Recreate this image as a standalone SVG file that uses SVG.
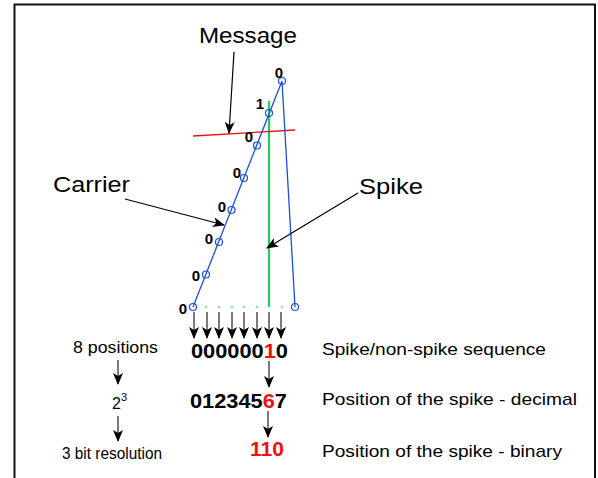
<svg xmlns="http://www.w3.org/2000/svg" width="598" height="478" viewBox="0 0 598 478">
<defs>
<marker id="ah" viewBox="0 0 12 10" refX="11" refY="5" markerWidth="12" markerHeight="10" markerUnits="userSpaceOnUse" orient="auto">
<path d="M0,0 L12,5 L0,10 L3,5 z" fill="#000"/>
</marker>
</defs>
<style>
.lbl{font-family:"Liberation Sans",Arial,sans-serif;fill:#000}
.big{font-size:22px}
.mid{font-size:17px}
.bit{font-family:"Liberation Sans",Arial,sans-serif;font-size:15px;font-weight:bold;fill:#000}
.seq{font-family:"Liberation Sans",Arial,sans-serif;font-size:21px;font-weight:bold;fill:#000}
.red{fill:#ee1111}
.ptr{stroke:#000;stroke-width:1.2;fill:none;marker-end:url(#ah)}
.dn{stroke:#222;stroke-width:1.2;fill:none;marker-end:url(#ah)}
.pt{fill:none;stroke:#1a4fd6;stroke-width:1.2}
.dot{fill:#9be3b5}
</style>
<rect width="598" height="478" fill="#fff"/>
<path d="M14.5,478 V4.5 H595 V478" fill="none" stroke="#111" stroke-width="2"/>

<g id="baseline">
<line x1="193" y1="307" x2="295" y2="307" stroke="#d8f2e2" stroke-width="1" stroke-dasharray="1 3"/>
<circle class="dot" cx="206" cy="307" r="1.5"/>
<circle class="dot" cx="219" cy="307" r="1.5"/>
<circle class="dot" cx="232" cy="307" r="1.5"/>
<circle class="dot" cx="244" cy="307" r="1.5"/>
<circle class="dot" cx="257" cy="307" r="1.5"/>
<circle class="dot" cx="282" cy="307" r="1.5"/>
</g>

<g id="spike-line">
<line x1="269" y1="101" x2="269" y2="307" stroke="#22cc66" stroke-width="2.2"/>
</g>

<g id="message-line">
<line x1="193" y1="136" x2="295" y2="130" stroke="#ee1111" stroke-width="1.3"/>
</g>

<g id="carrier">
<polyline points="193,307 282,81 295,307" fill="none" stroke="#1a4fd6" stroke-width="1.3"/>
<circle class="pt" cx="193" cy="307" r="3.5"/>
<circle class="pt" cx="206" cy="274.5" r="3.5"/>
<circle class="pt" cx="219" cy="242" r="3.5"/>
<circle class="pt" cx="231.5" cy="210" r="3.5"/>
<circle class="pt" cx="244" cy="178" r="3.5"/>
<circle class="pt" cx="257" cy="145.5" r="3.5"/>
<circle class="pt" cx="269" cy="113" r="3.5"/>
<circle class="pt" cx="282" cy="81" r="3.5"/>
<circle class="pt" cx="295" cy="307" r="3.5"/>
</g>

<g id="bits">
<text class="bit" x="183" y="314" text-anchor="middle">0</text>
<text class="bit" x="196" y="281" text-anchor="middle">0</text>
<text class="bit" x="209" y="244" text-anchor="middle">0</text>
<text class="bit" x="222" y="212" text-anchor="middle">0</text>
<text class="bit" x="237" y="178" text-anchor="middle">0</text>
<text class="bit" x="249" y="142" text-anchor="middle">0</text>
<text class="bit" x="260" y="109" text-anchor="middle">1</text>
<text class="bit" x="279" y="78" text-anchor="middle">0</text>
</g>

<g id="message"><text class="lbl big" x="199" y="43" textLength="98" lengthAdjust="spacingAndGlyphs">Message</text></g>
<g id="carrier-label"><text class="lbl big" x="53" y="192" textLength="77" lengthAdjust="spacingAndGlyphs">Carrier</text></g>
<g id="spike-label"><text class="lbl big" x="359" y="194" textLength="64" lengthAdjust="spacingAndGlyphs">Spike</text></g>

<g id="connectors">
<line class="ptr" x1="234" y1="52" x2="229" y2="133"/>
<line class="ptr" x1="125" y1="199" x2="224" y2="225"/>
<line class="ptr" x1="358" y1="193" x2="267" y2="248"/>
<line class="dn" x1="194" y1="312" x2="194" y2="338"/>
<line class="dn" x1="207" y1="312" x2="207" y2="338"/>
<line class="dn" x1="219" y1="312" x2="219" y2="338"/>
<line class="dn" x1="232" y1="312" x2="232" y2="338"/>
<line class="dn" x1="244" y1="312" x2="244" y2="338"/>
<line class="dn" x1="257" y1="312" x2="257" y2="338"/>
<line class="dn" x1="269" y1="312" x2="269" y2="338"/>
<line class="dn" x1="281" y1="312" x2="281" y2="338"/>
<line class="dn" x1="269" y1="361" x2="269" y2="387"/>
<line class="dn" x1="268" y1="411" x2="268" y2="437"/>
<line class="dn" x1="118" y1="360" x2="118" y2="384"/>
<line class="dn" x1="118" y1="416" x2="118" y2="441"/>
</g>

<g id="sequence">
<text class="seq" x="191" y="358" textLength="97" lengthAdjust="spacingAndGlyphs">000000<tspan class="red">1</tspan>0</text>
</g>
<g id="decimal">
<text class="seq" x="190" y="408" textLength="97" lengthAdjust="spacingAndGlyphs">012345<tspan class="red">6</tspan>7</text>
</g>
<g id="binary">
<text class="seq red" x="250" y="456" textLength="34" lengthAdjust="spacingAndGlyphs">110</text>
</g>

<g id="right-labels">
<text class="lbl mid" x="322" y="355" textLength="224" lengthAdjust="spacingAndGlyphs">Spike/non-spike sequence</text>
<text class="lbl mid" x="322" y="405" textLength="255" lengthAdjust="spacingAndGlyphs">Position of the spike - decimal</text>
<text class="lbl mid" x="322" y="457" textLength="240" lengthAdjust="spacingAndGlyphs">Position of the spike - binary</text>
</g>

<g id="left-labels">
<text class="lbl" font-size="16" x="73" y="353" textLength="85" lengthAdjust="spacingAndGlyphs">8 positions</text>
<text class="lbl" font-size="16" x="112" y="409">2<tspan font-size="11" dy="-8">3</tspan></text>
<text class="lbl" font-size="16" x="62" y="459" textLength="100" lengthAdjust="spacingAndGlyphs">3 bit resolution</text>
</g>
</svg>
